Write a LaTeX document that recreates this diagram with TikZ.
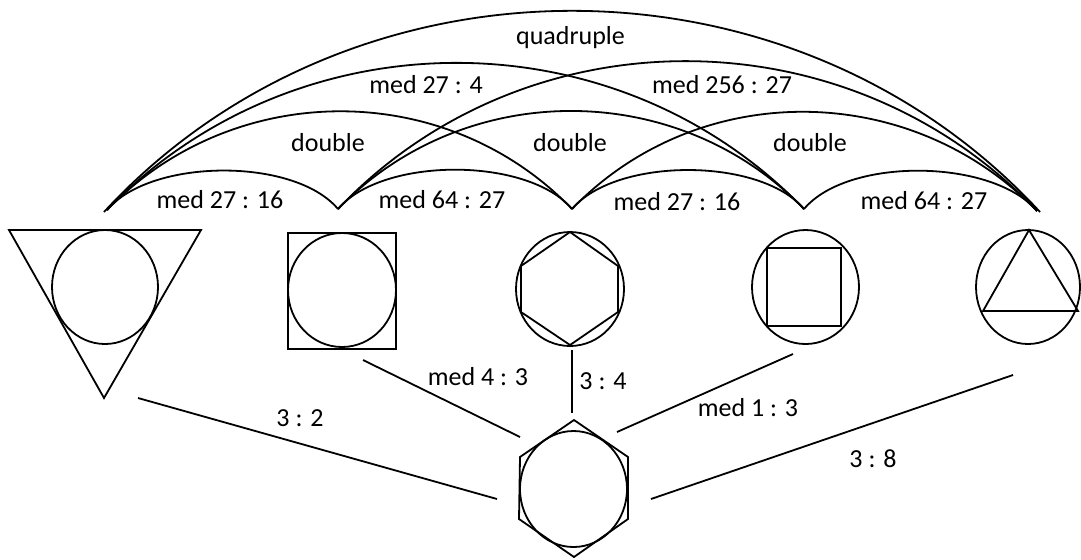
\documentclass[tikz,border=0pt]{standalone}
\usepackage{fontspec}
\setmainfont{Carlito}
\begin{document}
\begin{tikzpicture}[x=0.5pt,y=0.5pt,
  figline/.style={line width=0.9pt},
  conn/.style={line width=0.9pt},
  smallarc/.style={conn,out=50,in=130,looseness=0.75},
  lbl/.style={font=\fontsize{13}{15}\selectfont, inner sep=0pt}]
\useasboundingbox (0,0) rectangle (1081,-559);
% shapes
\draw[figline] (9,-230) -- (201,-230) -- (104,-398) -- cycle;
\draw[figline] (105,-287) ellipse[x radius=53, y radius=57];
\draw[figline] (288,-233) rectangle (396,-349);
\draw[figline] (342,-290) ellipse[x radius=54, y radius=57];
\draw[figline] (570,-289) ellipse[x radius=54, y radius=57];
\draw[figline] (570,-232) -- (618,-266) -- (618,-312) -- (570,-345) -- (521,-312) -- (521,-266) -- cycle;
\draw[figline] (805.5,-287) ellipse[x radius=53.5, y radius=57];
\draw[figline] (767,-248) rectangle (841,-326);
\draw[figline] (1028,-287) ellipse[x radius=52, y radius=57];
\draw[figline] (1029,-230) -- (1078,-311) -- (983,-311) -- cycle;
\draw[figline] (574,-420) -- (628,-457) -- (628,-519) -- (574,-557) -- (519,-519) -- (520,-457) -- cycle;
\draw[figline] (573.5,-489) ellipse[x radius=53.5, y radius=58];
% arc end points
\coordinate (P1) at (107,-210);
\coordinate (P2) at (338,-209);
\coordinate (P3) at (572,-209);
\coordinate (P4) at (804,-209);
\coordinate (P5) at (1037,-211);
\coordinate (Q1) at (104,-212);
\coordinate (Q5) at (1040,-212);
% arcs
\draw[smallarc] (P1) to (P2);
\draw[smallarc] (P2) to (P3);
\draw[smallarc] (P3) to (P4);
\draw[smallarc] (P4) to (P5);
\draw[conn] (P1) to[out=46,in=134] (P3);
\draw[conn] (P2) to[out=46,in=134] (P4);
\draw[conn] (P3) to[out=46,in=134] (P5);
\draw[conn] (P1) to[out=46,in=134] (P4);
\draw[conn] (P2) to[out=46.5,in=133.5] (P5);
\draw[conn] (Q1) to[out=47.3,in=132.7] (Q5);
% connector end points
\coordinate (a1) at (138,-398); \coordinate (b1) at (497,-499);
\coordinate (a2) at (363,-360); \coordinate (b2) at (520,-437);
\coordinate (a3) at (572,-350); \coordinate (b3) at (572,-413);
\coordinate (a4) at (793,-354); \coordinate (b4) at (617,-432);
\coordinate (a5) at (1013,-375); \coordinate (b5) at (651,-499);
\draw[conn] (a1) -- (b1);
\draw[conn] (a2) -- (b2);
\draw[conn] (a3) -- (b3);
\draw[conn] (a4) -- (b4);
\draw[conn] (a5) -- (b5);
% labels
\node[lbl] (t1) at (220,-200) {med 27 : 16};
\node[lbl] (t2) at (442,-200) {med 64 : 27};
\node[lbl] (t3) at (677,-202) {med 27 : 16};
\node[lbl] (t4) at (924,-201) {med 64 : 27};
\node[lbl] (t5) at (328,-143) {double};
\node[lbl] (t6) at (570,-143) {double};
\node[lbl] (t7) at (810,-143) {double};
\node[lbl] (t8) at (426,-85) {med 27 : 4};
\node[lbl] (t9) at (722,-85) {med 256 : 27};
\node[lbl] (t10) at (570.5,-38) {quadruple};
\node[lbl] (t11) at (300,-418) {3 : 2};
\node[lbl] (t12) at (478,-377) {med 4 : 3};
\node[lbl] (t13) at (603,-381) {3 : 4};
\node[lbl] (t14) at (748,-408) {med 1 : 3};
\node[lbl] (t15) at (873,-459) {3 : 8};
\end{tikzpicture}
\end{document}
